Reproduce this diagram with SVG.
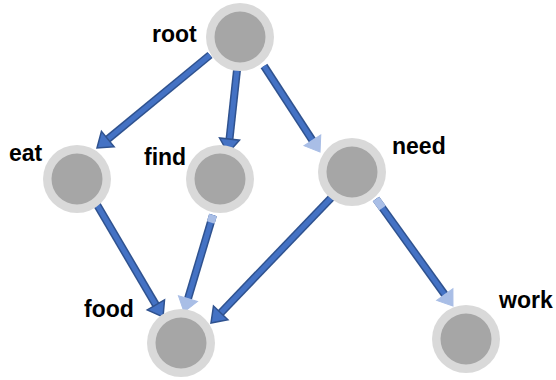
<svg xmlns="http://www.w3.org/2000/svg" width="556" height="380" viewBox="0 0 556 380">
  <style>
    .ring { fill: #D9D9D9; }
    .core { fill: #A6A6A6; }
    .label { font-family: "Liberation Sans", Arial, sans-serif; font-weight: bold; font-size: 23px; fill: #000; }
    .edge-out { stroke: #2F528F; stroke-width: 8; fill: none; }
    .edge-in { stroke: #4472C4; stroke-width: 5; fill: none; }
    .edge-fade { stroke: #A9BEE6; stroke-width: 8; fill: none; }
  </style>
  <defs>
    <marker id="head" markerUnits="userSpaceOnUse" viewBox="0 -12 16 24" refX="0" refY="0" markerWidth="16" markerHeight="24" orient="auto" overflow="visible">
      <path d="M0,-10 L14,0 L0,10 Z" fill="#4472C4" stroke="#2F528F" stroke-width="1.5" stroke-linejoin="miter"/>
    </marker>
    <marker id="head-light" markerUnits="userSpaceOnUse" viewBox="0 -12 16 24" refX="0" refY="0" markerWidth="16" markerHeight="24" orient="auto" overflow="visible">
      <path d="M0,-10 L14,0 L0,10 Z" fill="#A9BEE6" stroke="#A9BEE6" stroke-width="1"/>
    </marker>
  </defs>

  <g id="connectors">
    <!-- root -> eat -->
    <line class="edge-out" x1="210" y1="55" x2="107.8" y2="139.1"/>
    <line class="edge-in" x1="210" y1="55" x2="107.8" y2="139.1" marker-end="url(#head)"/>
    <!-- root -> find -->
    <line class="edge-out" x1="237" y1="70" x2="229.5" y2="139.1"/>
    <line class="edge-in" x1="237" y1="70" x2="229.5" y2="139.1" marker-end="url(#head)"/>
    <!-- root -> need -->
    <line class="edge-out" x1="264" y1="66" x2="312.4" y2="140.3"/>
    <line class="edge-in" x1="264" y1="66" x2="312.4" y2="140.3" marker-end="url(#head-light)"/>
    <!-- eat -> food -->
    <line class="edge-out" x1="96" y1="203" x2="155.9" y2="304.9"/>
    <line class="edge-in" x1="96" y1="203" x2="155.9" y2="304.9" marker-end="url(#head)"/>
    <!-- find -> food -->
    <line class="edge-out" x1="213" y1="215" x2="188" y2="298.6"/>
    <line class="edge-in" x1="213" y1="215" x2="188" y2="298.6" marker-end="url(#head-light)"/>
    <line class="edge-fade" x1="213" y1="215" x2="210.8" y2="222.5"/>
    <!-- need -> food -->
    <line class="edge-out" x1="332" y1="197" x2="220.7" y2="312.9"/>
    <line class="edge-in" x1="332" y1="197" x2="220.7" y2="312.9" marker-end="url(#head)"/>
    <!-- need -> work -->
    <line class="edge-out" x1="376" y1="199" x2="444.8" y2="294.6"/>
    <line class="edge-in" x1="376" y1="199" x2="444.8" y2="294.6" marker-end="url(#head-light)"/>
    <line class="edge-fade" x1="376" y1="199" x2="382.5" y2="208"/>
  </g>

  <g id="node-root">
    <circle class="ring" cx="240" cy="37" r="34"/>
    <circle class="core" cx="240" cy="37" r="25.5"/>
    <text class="label" x="152" y="42">root</text>
  </g>
  <g id="node-eat">
    <circle class="ring" cx="77" cy="179" r="34"/>
    <circle class="core" cx="77" cy="179" r="25.5"/>
    <text class="label" x="9" y="161">eat</text>
  </g>
  <g id="node-find">
    <circle class="ring" cx="220" cy="179" r="34"/>
    <circle class="core" cx="220" cy="179" r="25.5"/>
    <text class="label" x="144" y="165">find</text>
  </g>
  <g id="node-need">
    <circle class="ring" cx="352" cy="172" r="34"/>
    <circle class="core" cx="352" cy="172" r="25.5"/>
    <text class="label" x="392" y="154">need</text>
  </g>
  <g id="node-food">
    <circle class="ring" cx="181" cy="343" r="34"/>
    <circle class="core" cx="181" cy="343" r="25.5"/>
    <text class="label" x="84" y="317">food</text>
  </g>
  <g id="node-work">
    <circle class="ring" cx="466" cy="339" r="34"/>
    <circle class="core" cx="466" cy="339" r="25.5"/>
    <text class="label" x="499" y="308">work</text>
  </g>
</svg>
